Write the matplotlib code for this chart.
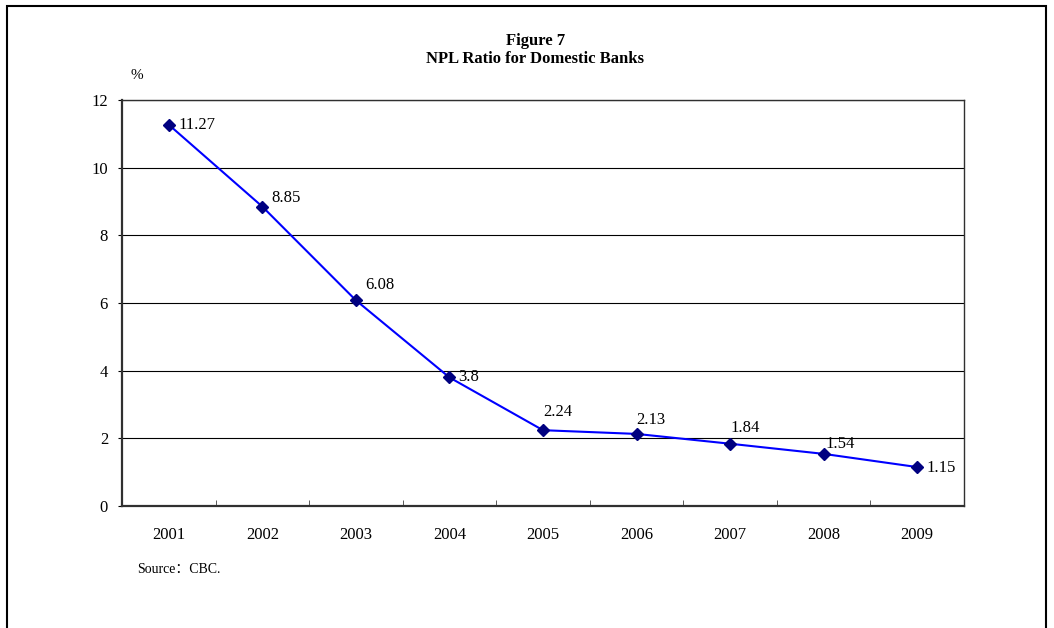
import matplotlib.pyplot as plt
from matplotlib.patches import Rectangle

years = ['2001', '2002', '2003', '2004', '2005', '2006', '2007', '2008', '2009']
npl = [11.27, 8.85, 6.08, 3.8, 2.24, 2.13, 1.84, 1.54, 1.15]
labels = ['11.27', '8.85', '6.08', '3.8', '2.24', '2.13', '1.84', '1.54', '1.15']
# label offsets in points
offsets = [(7, 0), (6.5, 6.5), (6.5, 11), (6.5, 0), (0, 13), (0, 10), (0, 11), (1.5, 7), (6.5, -1)]

plt.rcParams['font.family'] = ['Liberation Serif', 'Noto Sans CJK SC']

fig = plt.figure(figsize=(10.54, 6.28), dpi=100)
ax = fig.add_axes([0.1157, 0.1943, 0.7989, 0.6465])

x = list(range(len(years)))
ax.plot(x, npl, color='#0000FF', lw=1.5, marker='D', ms=6.5,
        mfc='#000080', mec='#000080', zorder=3)
for i, v in enumerate(npl):
    ax.annotate(labels[i], (x[i], v), xytext=offsets[i], textcoords='offset points',
                fontsize=12, ha='left', va='center')

ax.set_xlim(-0.5, len(years) - 0.5)
ax.set_ylim(0, 12)
ax.set_yticks(range(0, 13, 2))
ax.yaxis.grid(True, color='black', lw=0.8)
ax.set_axisbelow(True)
ax.set_xticks(x)
ax.set_xticklabels(years)
ax.set_xticks([i + 0.5 for i in x[:-1]], minor=True)
ax.tick_params(axis='x', which='major', length=0, pad=15, labelsize=12)
ax.tick_params(axis='x', which='minor', length=4, direction='in', color='#404040')
ax.tick_params(axis='y', length=3, direction='out', pad=7, labelsize=12)
for s in ['left', 'bottom']:
    ax.spines[s].set_linewidth(1.6)
    ax.spines[s].set_color('#303030')
for s in ['top', 'right']:
    ax.spines[s].set_linewidth(1.0)
    ax.spines[s].set_color('#303030')

fig.text(0.508, 0.934, 'Figure 7', ha='center', va='center', fontsize=12, fontweight='bold')
fig.text(0.508, 0.906, 'NPL Ratio for Domestic Banks', ha='center', va='center',
         fontsize=12, fontweight='bold')
fig.text(0.130, 0.880, '%', ha='center', va='center', fontsize=11)
fig.text(0.130, 0.093, 'Source：CBC.', ha='left', va='center', fontsize=10)

fig.patches.append(Rectangle((0.0068, -0.02), 0.9856, 1.0104, transform=fig.transFigure,
                             fill=False, lw=1.5, ec='black'))

fig.savefig('out.png', dpi=100)
